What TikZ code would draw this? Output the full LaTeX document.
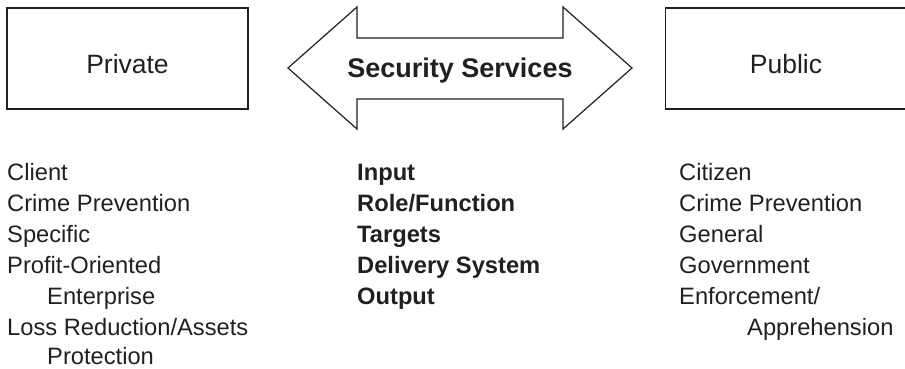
\documentclass[tikz,border=0pt]{standalone}
\usepackage{fontspec}
\setmainfont{Liberation Sans}
\definecolor{ink}{HTML}{231F20}
\begin{document}
\begin{tikzpicture}[x=1pt,y=-1pt,
  boxstyle/.style={draw=ink, line width=1.2pt, minimum width=241pt, minimum height=101pt, inner sep=0pt},
  boxlabel/.style={anchor=base, inner sep=0pt, text=ink, font=\fontsize{26.5}{30}\selectfont},
  listitem/.style={anchor=base west, inner sep=0pt, text=ink, font=\fontsize{23.7}{28}\selectfont},
  bolditem/.style={listitem, font=\fontsize{23.7}{28}\selectfont\bfseries}]
\useasboundingbox (0,0) rectangle (905,368);
\clip (0,0) rectangle (905,368);
% boxes
\node[boxstyle] (priv) at (127.5,58.5) {};
\node[boxstyle] (publ) at (786,58.5) {};
\node[boxlabel] (privt) at (127.5,73) {Private};
\node[boxlabel] (publt) at (786,73) {Public};
% double arrow
\node[inner sep=0pt, text=ink, font=\fontsize{27}{30}\selectfont\bfseries, anchor=base] (ss) at (460,77.5) {Security Services};
\draw[ink, line width=1.2pt, line join=miter]
  (288,68) -- (357,7) -- (357,38) -- (563,38) -- (563,7) -- (632,68)
  -- (563,129) -- (563,99) -- (357,99) -- (357,129) -- cycle;
% left column
\node[listitem] (l1) at (7,180) {Client};
\node[listitem] (l2) at (7,211) {Crime Prevention};
\node[listitem] (l3) at (7,242) {Specific};
\node[listitem] (l4) at (7,273) {Profit-Oriented};
\node[listitem] (l5) at (47,304) {Enterprise};
\node[listitem] (l6) at (7,335) {Loss Reduction/Assets};
\node[listitem] (l7) at (47,364.5) {Protection};
% middle column
\node[bolditem] (m1) at (357,180) {Input};
\node[bolditem] (m2) at (357,211) {Role/Function};
\node[bolditem] (m3) at (357,242) {Targets};
\node[bolditem] (m4) at (357,273) {Delivery System};
\node[bolditem] (m5) at (357,304) {Output};
% right column
\node[listitem] (r1) at (679,180) {Citizen};
\node[listitem] (r2) at (679,211) {Crime Prevention};
\node[listitem] (r3) at (679,242) {General};
\node[listitem] (r4) at (679,273) {Government};
\node[listitem] (r5) at (679,304) {Enforcement/};
\node[listitem] (r6) at (747,335) {Apprehension};
\end{tikzpicture}
\end{document}
